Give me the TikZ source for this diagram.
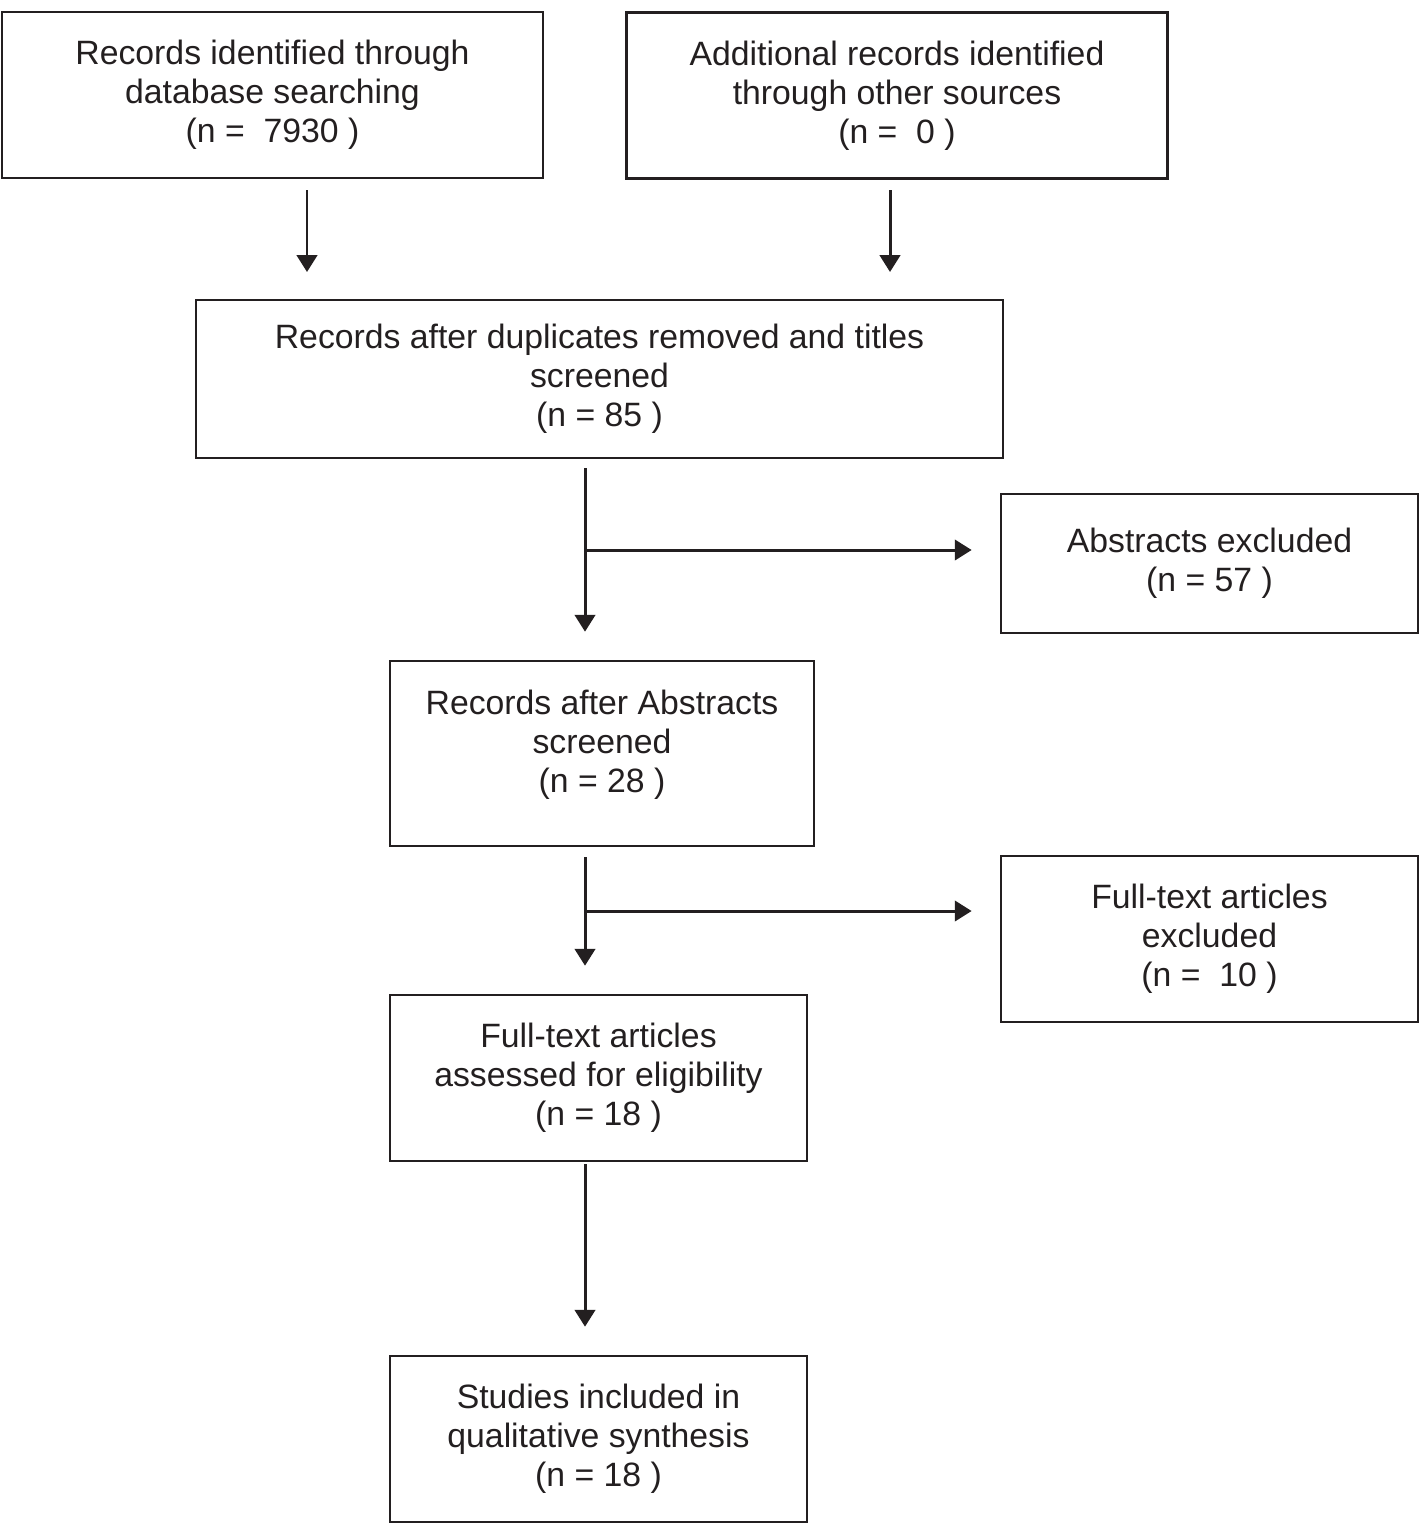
\documentclass[tikz,border=0pt]{standalone}
\usepackage{fontspec}
\setmainfont{Liberation Sans}
\usetikzlibrary{arrows.meta}
\definecolor{BoxLine}{HTML}{231F20}

\begin{document}
\begin{tikzpicture}[
    x=0.01cm, y=-0.01cm,
    box/.style={draw=BoxLine, line width=0.7pt, align=center, inner sep=0pt, text=BoxLine, font=\fontsize{9.6}{11.1}\selectfont},
    wide/.style={box, minimum width=5.41cm, minimum height=1.66cm},
    side/.style={box, minimum width=4.17cm},
    txt/.style={box, draw=none},
    link/.style={draw=BoxLine, line width=0.85pt, -{Triangle[width=5.8pt,length=4.8pt]}}
]
\useasboundingbox (0,0) rectangle (1424,1524);

% === Identification ===
\node[wide] (dbrec) at (272.5, 95) {Records identified through\\database searching\\(n =\ \ 7930 )};
\node[wide] (otherrec) at (897, 95.5) {Additional records identified\\through other sources\\(n =\ \ 0 )};

% === Screening ===
\node[box, minimum width=8.07cm, minimum height=1.58cm] (screen) at (599.5, 379) {Records after duplicates removed and titles\\screened\\(n = 85 )};
\node[side, minimum height=1.39cm] (absexcl) at (1209.5, 563.5) {Abstracts excluded\\(n = 57 )};
\node[box, minimum width=4.24cm, minimum height=1.85cm] (absscreen) at (602, 753.5) {};
\node[txt] (absscreentxt) at (602, 745) {Records after Abstracts\\screened\\(n = 28 )};

% === Eligibility ===
\node[side, minimum height=1.66cm] (ftexcl) at (1209.5, 939) {Full-text articles\\excluded\\(n =\ \ 10 )};
\node[side, minimum height=1.66cm] (ftassess) at (598.5, 1078) {Full-text articles\\assessed for eligibility\\(n = 18 )};

% === Included ===
\node[side, minimum height=1.66cm] (incl) at (598.5, 1439) {Studies included in\\qualitative synthesis\\(n = 18 )};

% Arrows
\coordinate (dbtop) at (307, 190);
\coordinate (dbtip) at (307, 272);
\coordinate (ottop) at (890, 190);
\coordinate (ottip) at (890, 272);
\draw[link] (dbtop) -- (dbtip);
\draw[link] (ottop) -- (ottip);

\coordinate (split1) at (585, 550);
\coordinate (split2) at (585, 911);
\draw[link, shorten <=0.09cm, shorten >=0.28cm] (screen.south -| split1) -- (absscreen.north -| split1);
\draw[link, shorten >=0.28cm] (split1) -- (split1 -| absexcl.west);
\draw[link, shorten <=0.10cm, shorten >=0.28cm] (absscreen.south -| split2) -- (ftassess.north -| split2);
\draw[link, shorten >=0.28cm] (split2) -- (split2 -| ftexcl.west);
\draw[link, shorten <=0.02cm, shorten >=0.28cm] (ftassess.south -| split2) -- (incl.north -| split2);
\end{tikzpicture}
\end{document}
